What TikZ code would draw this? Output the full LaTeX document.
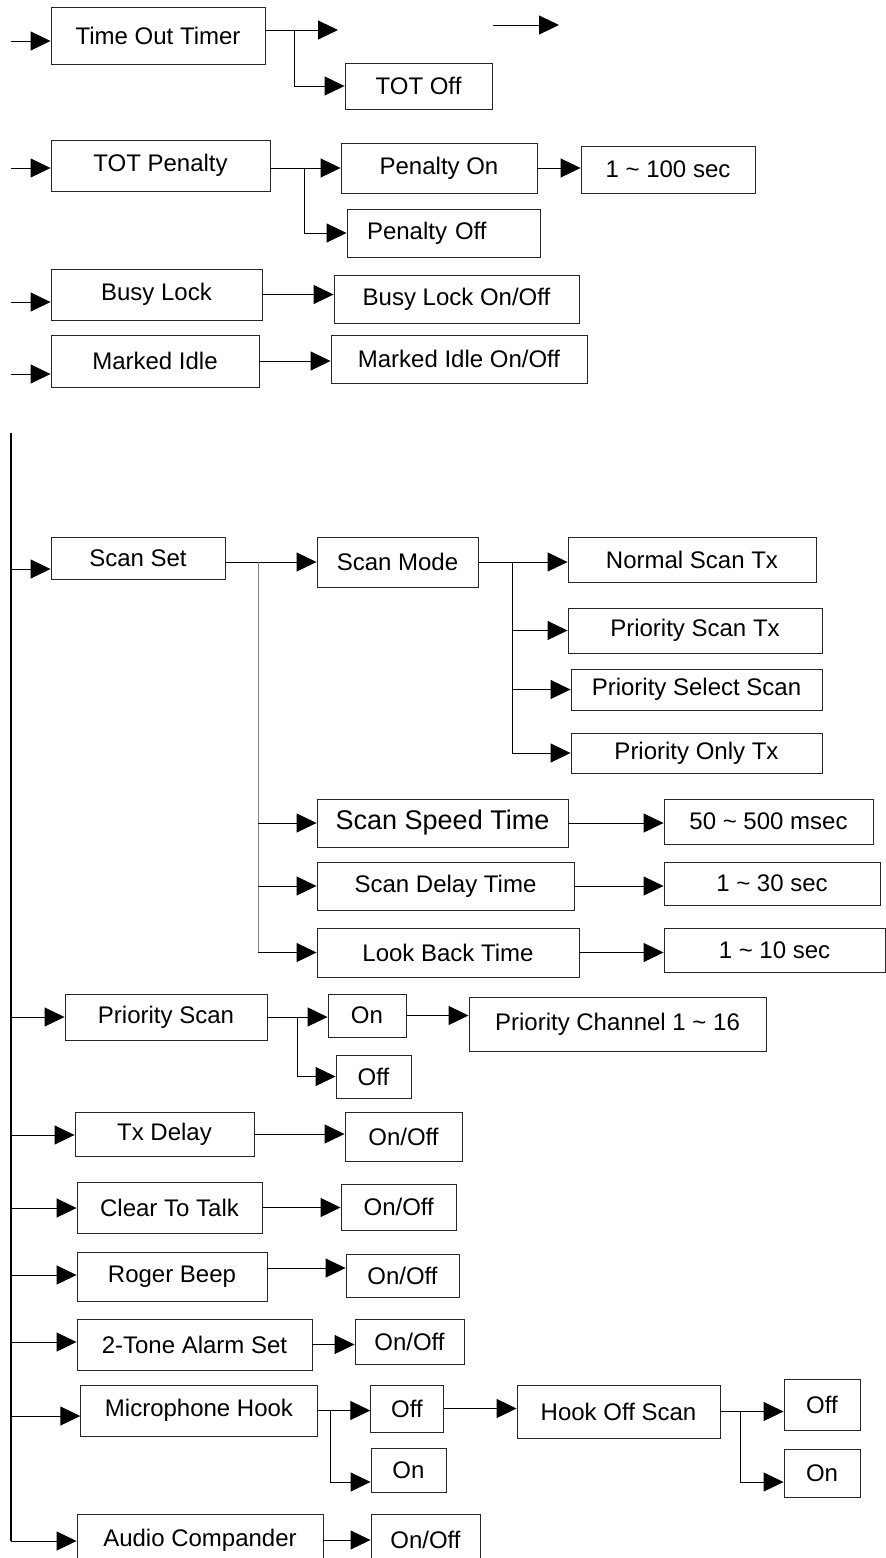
\documentclass[tikz,border=0pt]{standalone}
\usepackage{fontspec}
\setmainfont{Liberation Sans}
\usetikzlibrary{arrows.meta}
\newcommand\tld{\textasciitilde}

\begin{document}
\begin{tikzpicture}[x=1pt, y=-1pt, line width=0.9pt,
  box/.style={draw=black!85, inner sep=0pt, font=\fontsize{24}{28}\selectfont},
  sz/.style 2 args={minimum width=#1pt, minimum height=#2pt},
  arr/.style={-{Triangle[length=20pt,width=19pt]}}]
  \useasboundingbox (0,0) rectangle (886,1558);

  % upper menus
  \node[box, sz={214}{57}] (tot) at (158,35.5) {Time Out Timer};
  \node[box, sz={147}{46}] (totoff) at (418.5,86) {TOT Off};
  \node[box, sz={219}{51}] (pen) at (160.5,165.5) {TOT Penalty};
  \node[box, sz={196}{50}] (penon) at (439,168) {Penalty On};
  \node[box, sz={174}{47}] (sec100) at (668,169.5) {1 \tld{} 100 sec};
  \node[box, sz={193}{48}, inner xsep=20pt, text width=153pt, align=left] (penoff) at (443.5,233) {Penalty Off};
  \node[box, sz={211}{51}] (busy) at (156.5,294.5) {Busy Lock};
  \node[box, sz={245}{48}] (busyon) at (456.5,299) {Busy Lock On/Off};
  \node[box, sz={208}{52}] (idle) at (155,361) {Marked Idle};
  \node[box, sz={256}{48}] (idleon) at (459,359) {Marked Idle On/Off};

  % scan set
  \node[box, sz={174}{42}] (scanset) at (138,558) {Scan Set};
  \node[box, sz={161}{50}] (scanmode) at (397.5,562) {Scan Mode};
  \node[box, sz={248}{45}] (normal) at (692,559.5) {Normal Scan Tx};
  \node[box, sz={254}{45}] (prioscan) at (695,630.5) {Priority Scan Tx};
  \node[box, sz={251}{41}] (priosel) at (696.5,689.5) {Priority Select Scan};
  \node[box, sz={251}{40}] (prioonly) at (696.5,753) {Priority Only Tx};
  \node[box, sz={251}{48}, font=\fontsize{27}{32}\selectfont] (speed) at (442.5,823) {Scan Speed Time};
  \node[box, sz={209}{45}] (msec) at (768.5,821.5) {50 \tld{} 500 msec};
  \node[box, sz={257}{48}] (delay) at (445.5,886) {Scan Delay Time};
  \node[box, sz={216}{43}] (sec30) at (772,883.5) {1 \tld{} 30 sec};
  \node[box, sz={262}{49}] (back) at (448,952.5) {Look Back Time};
  \node[box, sz={221}{44}] (sec10) at (774.5,950) {1 \tld{} 10 sec};

  % lower menus
  \node[box, sz={202}{46}] (prio) at (166,1017) {Priority Scan};
  \node[box, sz={78}{43}] (prioon) at (367,1015.5) {On};
  \node[box, sz={297}{54}] (chan) at (617.5,1024) {Priority Channel 1 \tld{} 16};
  \node[box, sz={75}{43}] (priooff) at (373.5,1076.5) {Off};
  \node[box, sz={179}{44}] (txd) at (164.5,1134) {Tx Delay};
  \node[box, sz={117}{49}] (txdon) at (403.5,1136.5) {On/Off};
  \node[box, sz={185}{51}] (ctt) at (169.5,1207.5) {Clear To Talk};
  \node[box, sz={115.5}{46}] (ctton) at (398.75,1207) {On/Off};
  \node[box, sz={190}{49}] (roger) at (172,1276.5) {Roger Beep};
  \node[box, sz={113}{43}] (rogeron) at (402.5,1275.5) {On/Off};
  \node[box, sz={235}{51}] (tone) at (194.5,1344.5) {2-Tone Alarm Set};
  \node[box, sz={109}{45}] (toneon) at (409.5,1341.5) {On/Off};
  \node[box, sz={236.5}{51}] (mic) at (199,1410.5) {Microphone Hook};
  \node[box, sz={72.5}{47}] (micoff) at (407,1408.5) {Off};
  \node[box, sz={75}{44}] (micon) at (408.5,1470) {On};
  \node[box, sz={203}{53}] (hook) at (618.5,1411.5) {Hook Off Scan};
  \node[box, sz={76}{51}] (hookoff) at (822,1404.5) {Off};
  \node[box, sz={76}{48}] (hookon) at (822,1473) {On};
  \node[box, sz={246}{52}] (audio) at (200,1540) {Audio Compander};
  \node[box, sz={109}{52}] (audioon) at (425.5,1540) {On/Off};

  % feed lines on the left
  \coordinate (main) at (11,433);
  \coordinate (mainend) at (11,1541);
  \draw[line width=1.6pt] (main) -- (mainend);
  \foreach \n/\y in {tot/41, pen/168, busy/302, idle/374, scanset/569, prio/1017,
                     txd/1135, ctt/1208, roger/1275, tone/1342, mic/1416, audio/1541}
    {\coordinate (f\n) at (11,\y);
     \draw[arr] (f\n) -- (f\n -| \n.west);}

  % Time Out Timer
  \coordinate (totend) at (338,30);
  \coordinate (totj) at (294,30);
  \draw[arr] (tot.east |- totend) -- (totend);
  \draw[arr] (totj) |- (totoff.west);
  \coordinate (lone1) at (493,25);
  \coordinate (lone2) at (559,25);
  \draw[arr] (lone1) -- (lone2);

  % TOT Penalty
  \coordinate (penj) at (304,168);
  \draw[arr] (pen.east |- penon.west) -- (penon.west);
  \draw[arr] (penj) |- (penoff.west);
  \draw[arr] (penon.east) -- (penon.east -| sec100.west);
  \draw[arr] (busy.east) -- (busy.east -| busyon.west);
  \draw[arr] (idle.east) -- (idle.east -| idleon.west);

  % Scan Set
  \coordinate (ssj) at (258,562);
  \draw[arr] (scanset.east |- scanmode.west) -- (scanmode.west);
  \draw[gray] (ssj) -- (ssj |- back.west);
  \foreach \n in {speed, delay, back}
    \draw[arr] (ssj |- \n.west) -- (\n.west);
  \coordinate (smj) at (512,562);
  \draw[arr] (scanmode.east) -- (scanmode.east -| normal.west);
  \draw (smj) -- (smj |- prioonly.west);
  \foreach \n in {prioscan, priosel, prioonly}
    \draw[arr] (smj |- \n.west) -- (\n.west);
  \foreach \a/\b in {speed/msec, delay/sec30, back/sec10}
    \draw[arr] (\a.east) -- (\a.east -| \b.west);

  % Priority Scan
  \coordinate (prj) at (297,1017);
  \draw[arr] (prio.east) -- (prio.east -| prioon.west);
  \draw[arr] (prj) |- (priooff.west);
  \draw[arr] (prioon.east) -- (prioon.east -| chan.west);
  \foreach \a/\b in {txd/txdon, ctt/ctton, tone/toneon, audio/audioon}
    \draw[arr] (\a.east) -- (\a.east -| \b.west);
  \coordinate (rj) at (267,1268);
  \draw[arr] (rj) -- (rj -| rogeron.west);

  % Microphone Hook
  \coordinate (micj) at (330,1410.5);
  \coordinate (micj2) at (330,1482);
  \draw[arr] (mic.east) -- (mic.east -| micoff.west);
  \draw (micj) -- (micj2);
  \draw[arr] (micj2) -- (micj2 -| micon.west);
  \draw[arr] (micoff.east) -- (micoff.east -| hook.west);
  \coordinate (hkj) at (740,1411.5);
  \coordinate (hkj2) at (740,1482);
  \draw[arr] (hook.east) -- (hook.east -| hookoff.west);
  \draw (hkj) -- (hkj2);
  \draw[arr] (hkj2) -- (hkj2 -| hookon.west);
\end{tikzpicture}
\end{document}
